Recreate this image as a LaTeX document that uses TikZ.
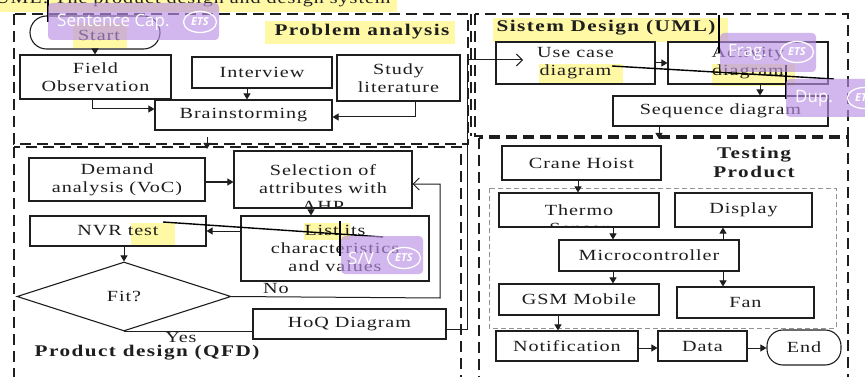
\documentclass[tikz,border=0pt]{standalone}
\usepackage{fontspec}
\usetikzlibrary{shapes.geometric,arrows.meta,calc}
\newfontfamily\dfont[FakeStretch=1.3,LetterSpace=6]{Liberation Serif}
\newfontfamily\dbfont[FakeStretch=1.3,LetterSpace=9]{Liberation Serif}
\newfontfamily\annfont{Open Sans}
\newcommand{\rfont}{\dfont\fontsize{15.5}{18}\selectfont}
\newcommand{\bfnt}{\dbfont\bfseries\fontsize{16.3}{19}\selectfont}
\definecolor{hl}{RGB}{255,248,165}
\definecolor{purp}{RGB}{185,145,228}
\definecolor{ink}{RGB}{30,30,30}
\tikzset{
  box/.style={draw=ink, line width=1.1pt, inner sep=0pt, align=center, font=\rfont, text=ink},
  lbl/.style={inner sep=0pt, align=center, font=\rfont, text=ink},
  blbl/.style={inner sep=0pt, align=center, font=\bfnt, text=ink},
  arr/.style={draw=ink, line width=1pt, -{Triangle[length=6pt,width=7pt]}},
  oarr/.style={draw=ink, line width=1pt, -{Straight Barb[length=6pt,width=12pt]}},
  plain/.style={draw=ink, line width=1pt},
  dashbox/.style={draw=ink, line width=1.7pt, dash pattern=on 11pt off 6pt},
  innerdash/.style={draw=gray!85, line width=0.8pt, dash pattern=on 5pt off 3pt},
  hlbox/.style={fill=hl, draw=none},
  annbox/.style={fill=purp, fill opacity=0.65, draw=none, rounded corners=4pt},
  anntext/.style={text=white, font=\annfont\fontsize{17}{17}\selectfont, inner sep=0pt, anchor=west},
  etslogo/.style={draw=white, line width=1.3pt, ellipse, minimum width=33pt, minimum height=21pt, inner sep=0pt, text=white, font=\annfont\bfseries\itshape\fontsize{11}{11}\selectfont},
  strike/.style={draw=black, line width=1.4pt}
}
\begin{document}
\begin{tikzpicture}[x=1pt,y=-1pt]
\useasboundingbox (0,0) rectangle (865,377);
\clip (0,0) rectangle (865,377);
\fill[white] (0,0) rectangle (865,377);

% ---------- yellow highlights ----------
\fill[hlbox] (0,0) rectangle (397,12);
\fill[hlbox] (73,23) rectangle (127,48);
\fill[hlbox] (265,21) rectangle (455,44);
\fill[hlbox] (493,18) rectangle (728,42);
\fill[hlbox] (539,64) rectangle (623,85);
\fill[hlbox] (712,64) rectangle (795,86);
\fill[hlbox] (131,223) rectangle (175,245);
\fill[hlbox] (304,223) rectangle (350,240);

% caption (cut at top)
\node[lbl, anchor=base west] (caption) at (-5,4) {UML: The product design and design system};

% ---------- group frames ----------
\draw[dashbox] (14,14) rectangle (468,144);
\draw[dashbox] (14,147) rectangle (461,400);
\draw[dashbox] (475,14) rectangle (848,136);
\draw[dashbox] (471,14) -- (471,136);
\draw[dashbox] (479,138) rectangle (848,400);
\draw[innerdash] (489,188) rectangle (836,328);

% ---------- Problem analysis ----------
\node[box, rounded corners=16.5pt, minimum width=130pt, minimum height=33pt] (start) at (95,32.5) {};
\node[lbl] (startt) at (99,35) {Start};
\node[box, minimum width=151pt, minimum height=44pt] (field) at (95.5,77) {Field\\Observation};
\node[box, minimum width=140pt, minimum height=31pt] (interview) at (262,72.5) {Interview};
\node[box, minimum width=123pt, minimum height=46pt] (study) at (398.5,78) {Study\\literature};
\node[box, minimum width=177pt, minimum height=30pt] (brain) at (243.5,115) {Brainstorming};
\node[blbl] (palbl) at (362,32) {Problem analysis};

\draw[arr] (start.south) -- (start.south |- field.north);
\draw[arr] ([xshift=-3.5pt]field.south) |- ([yshift=6pt]brain.west);
\draw[arr] ([xshift=-15pt]interview.south) -- ([xshift=-15pt]interview.south |- brain.north);
\draw[arr] ([xshift=16.5pt]study.south) |- ([yshift=-2pt]brain.east);
\coordinate (paout) at (207,137);
\coordinate (qfdin) at (207,149);
\draw[arr] (paout) -- (qfdin);

% ---------- Product design (QFD) ----------
\node[box, minimum width=176pt, minimum height=43pt] (demand) at (117,179.5) {Demand\\analysis (VoC)};
\node[box, minimum width=178pt, minimum height=57pt,
  path picture={\node[lbl, anchor=north, draw=none, fill=none] (selectt) at ([yshift=-7.5pt]path picture bounding box.north) {Selection of\\attributes with\\AHP};}] (select) at (323,179.5) {};
\node[box, minimum width=188pt, minimum height=65pt] (list) at (335,248.5) {List its\\characteristics\\and values};
\node[box, minimum width=176pt, minimum height=30pt] (nvr) at (118,231) {NVR test};
\node[draw=ink, line width=1.1pt, shape=diamond, minimum width=214pt, minimum height=69pt, inner sep=0pt, font=\rfont, text=ink] (fit) at (124,296.5) {Fit?};
\node[box, minimum width=193pt, minimum height=30pt] (hoq) at (349.5,324) {HoQ Diagram};
\node[lbl] (nolbl) at (276,288) {No};
\node[lbl] (yeslbl) at (181,337) {Yes};
\node[blbl] (qfdlbl) at (147,353) {Product design (QFD)};

\draw[arr] ([yshift=-2.5pt]demand.east) -- ([yshift=-2.5pt]demand.east -| select.west);
\draw[arr] ([xshift=-12pt]select.south) -- ([xshift=-12pt]select.south |- list.north);
\draw[arr] (list.west |- nvr.east) -- (nvr.east);
\draw[arr] (nvr.south -| fit.north) -- (fit.north);
\coordinate (nocorner) at (440,298);
\draw[oarr] (fit.east) -- (nocorner) |- ([yshift=-4.5pt]select.east);
\draw[plain] (fit.south) -- (fit.south -| hoq.west);
\coordinate (hq1) at (467,329);
\coordinate (hq2) at (467,60);
\coordinate (ucin) at (523,60);

% ---------- Sistem Design (UML) ----------
\node[blbl] (sdlbl) at (606,28) {Sistem Design (UML)};
\node[box, minimum width=159pt, minimum height=42pt] (usecase) at (575.5,63) {Use case\\diagram};
\node[box, minimum width=160pt, minimum height=42pt] (activity) at (748,63) {Activity\\diagram};
\node[box, minimum width=215pt, minimum height=30pt] (seq) at (720.5,111) {Sequence diagram};
\draw[oarr] ([yshift=-5pt]hoq.east) -- (hq1) -- (hq2) -- (ucin);
\draw[arr] (usecase.east) -- (activity.west);
\draw[arr] ([xshift=12pt]activity.south) -- ([xshift=12pt]activity.south |- seq.north);
\coordinate (tpin) at (659,139);
\draw[arr] ([xshift=-61.5pt]seq.south) -- (tpin);

% ---------- Testing Product ----------
\node[blbl] (tplbl) at (754,162) {Testing\\Product};
\node[box, minimum width=159pt, minimum height=34pt] (crane) at (581.5,163) {Crane Hoist};
\node[box, minimum width=160pt, minimum height=34pt,
  path picture={\node[lbl, anchor=north, draw=none, fill=none] (thermot) at ([yshift=-8.5pt]path picture bounding box.north) {Thermo\\Sensor};}] (thermo) at (579,210) {};
\node[box, minimum width=137pt, minimum height=34pt] (display) at (743.5,210) {Display};
\node[box, minimum width=180pt, minimum height=31pt] (micro) at (649,255.5) {Microcontroller};
\node[box, minimum width=160pt, minimum height=31pt] (gsm) at (579,299.5) {GSM Mobile};
\node[box, minimum width=137pt, minimum height=31pt] (fan) at (745.5,302.5) {Fan};
\node[box, minimum width=142pt, minimum height=30pt] (notif) at (567,346) {Notification};
\node[box, minimum width=89pt, minimum height=30pt] (data) at (702.5,346) {Data};
\node[box, rounded corners=16pt, minimum width=74pt, minimum height=35pt] (endn) at (804,347.5) {End};

\draw[arr] ([xshift=-3.5pt]crane.south) -- ([xshift=-3.5pt]crane.south |- thermo.north);
\draw[arr] ([xshift=34pt]thermo.south) -- ([xshift=34pt]thermo.south |- micro.north);
\draw[arr] ([xshift=74pt]micro.north) -- ([xshift=74pt]micro.north |- display.south);
\draw[arr] ([xshift=-36pt]micro.south) -- ([xshift=-36pt]micro.south |- gsm.north);
\draw[arr] ([xshift=74pt]micro.south) -- ([xshift=74pt]micro.south |- fan.north);
\draw[arr] ([xshift=-21pt]gsm.south) -- ([xshift=-21pt]gsm.south |- notif.north);
\draw[arr] ([yshift=-2pt]notif.east) -- ([yshift=-2pt]notif.east -| data.west);
\draw[arr] ([yshift=-2pt]data.east) -- ([yshift=-2pt]data.east -| endn.west);

% ---------- review annotations ----------
\draw[strike] (48,0) -- (48,22);
\draw[strike] (719,15) -- (719,53);
\draw[strike] (612,66) -- (834,79);
\draw[strike] (786,65) -- (786,99);
\draw[strike] (163,222) -- (383,237);
\draw[strike] (340,221) -- (340,256);

\fill[annbox] (48,3) rectangle (219,40);
\node[anntext] (ann1) at (57,22) {Sentence Cap.};
\node[etslogo] (ets1) at (200,22) {ETS};
\fill[annbox] (720,33) rectangle (816,72);
\node[anntext] (ann2) at (728,52) {Frag.};
\node[etslogo] (ets2) at (797,52) {ETS};
\fill[annbox] (786,79) rectangle (872,117);
\node[anntext] (ann3) at (795,98) {Dup.};
\node[etslogo] (ets3) at (864,98) {ETS};
\fill[annbox] (341,236) rectangle (423,274);
\node[anntext] (ann4) at (348,258) {S/V};
\node[etslogo] (ets4) at (404,258) {ETS};
\end{tikzpicture}
\end{document}
